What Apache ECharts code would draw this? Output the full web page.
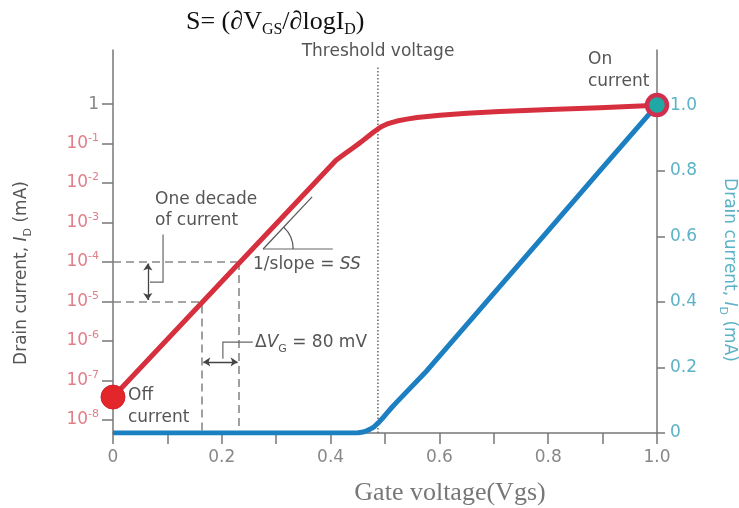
<!DOCTYPE html>
<html><head><meta charset="utf-8">
<script src="https://cdn.jsdelivr.net/npm/echarts@6/dist/echarts.min.js"></script>
<style>html,body{margin:0;padding:0;background:#fff}#c{width:739px;height:508px}</style>
</head><body><div id="c"></div>
<script>
// ---- data ----
const gateVoltageRed = [0, 0.41, 0.428, 0.441, 0.455, 0.467, 0.478, 0.487, 0.495, 0.503, 0.512, 0.522, 0.54, 0.559, 0.601, 0.651, 0.711, 0.803, 0.895, 1.0];
const logDrainCurrent = [-7.42, -1.42, -1.24, -1.11, -0.97, -0.84, -0.72, -0.63, -0.56, -0.51, -0.47, -0.43, -0.38, -0.34, -0.28, -0.23, -0.19, -0.14, -0.09, -0.03];
const gateVoltageBlue = [0, 0.449, 0.462, 0.472, 0.48, 0.487, 0.495, 0.503, 0.512, 0.522, 0.577, 0.7, 0.8, 0.9, 1.0];
const linearDrainCurrent = [0, 0, 0.004, 0.011, 0.019, 0.03, 0.044, 0.06, 0.077, 0.095, 0.19, 0.426, 0.617, 0.809, 1.0];
const offCurrent = [0, -7.42];
const onCurrent = [1.0, 1.0];
const thresholdVoltage = 0.487;
const thresholdTop = 1.115;

const xTicks = [0, 0.1, 0.2, 0.3, 0.4, 0.5, 0.6, 0.7, 0.8, 0.9, 1.0];
const xLabels = [0, 0.2, 0.4, 0.6, 0.8, 1.0];
const leftTicks = [-8, -7, -6, -5, -4, -3, -2, -1, 0];
const rightTicks = [0, 0.2, 0.4, 0.6, 0.8, 1.0];

// annotation geometry in data units (x = gate voltage, y = log10 I_D)
const dashGuides = [
  [[0, -4], [0.233, -4]],
  [[0.231, -4], [0.231, -8.33]],
  [[0, -5], [0.164, -5]],
  [[0.164, -5.1], [0.164, -8.33]]
];
const decadeArrow = [[0.064, -4.04], [0.064, -4.96]];
const deltaArrow = [[0.166, -6.53], [0.229, -6.53]];
const decadeLeader = [[0.092, -3.3], [0.092, -4.51], [0.068, -4.51]];
const deltaLeader = [[0.257, -6.03], [0.202, -6.03], [0.202, -6.45]];
const slopeBase = [[0.276, -3.67], [0.404, -3.67]];
const slopeTangent = [[0.276, -3.67], [0.366, -2.35]];

const SANS = 'DejaVu Sans';
const SERIF = 'Liberation Serif';
const RED = '#d6303f';
const BLUE = '#1c7fc2';
const PINK = '#df7f88';
const TEAL = '#5cb2c6';
const AXIS = '#777';
const TXT = '#555';

const chart = echarts.init(document.getElementById('c'), null, {renderer: 'canvas'});

const option = {
  animation: false,
  backgroundColor: '#fff',
  grid: {left: 113, right: 82, top: 50, bottom: 75, containLabel: false},
  xAxis: {
    type: 'value', min: 0, max: 1,
    axisLine: {show: true, onZero: false, lineStyle: {color: AXIS, width: 1.5}},
    axisTick: {show: true, length: 11, customValues: xTicks, lineStyle: {color: AXIS, width: 1.5}},
    axisLabel: {customValues: xLabels, margin: 16, color: '#888', fontSize: 17, fontFamily: SANS,
      formatter: v => v === 0 ? '0' : v.toFixed(1)},
    splitLine: {show: false}
  },
  yAxis: [{
    type: 'value', min: -8.33, max: 1.37, position: 'left',
    axisLine: {show: true, onZero: false, lineStyle: {color: AXIS, width: 1.5}},
    axisTick: {show: true, length: 11, customValues: leftTicks, lineStyle: {color: AXIS, width: 1.5}},
    axisLabel: {customValues: leftTicks, margin: 14,
      formatter: v => v === 0 ? '{g|1}' : '{b|10}{s|' + v + '}',
      rich: {
        g: {color: '#888', fontSize: 17, fontFamily: SANS, lineHeight: 22},
        b: {color: PINK, fontSize: 17, fontFamily: SANS, lineHeight: 22},
        s: {color: PINK, fontSize: 11, fontFamily: SANS, lineHeight: 11, verticalAlign: 'top'}
      }},
    splitLine: {show: false}
  }, {
    type: 'value', min: 0, max: 1.168, position: 'right',
    axisLine: {show: true, onZero: false, lineStyle: {color: AXIS, width: 1.5}},
    axisTick: {show: true, length: 8, customValues: rightTicks, lineStyle: {color: AXIS, width: 1.5}},
    axisLabel: {customValues: rightTicks, margin: 13, color: TEAL, fontSize: 17, fontFamily: SANS,
      formatter: v => v === 0 ? '0' : v.toFixed(1)},
    splitLine: {show: false}
  }],
  series: [
    {
      type: 'lines', coordinateSystem: 'cartesian2d', xAxisIndex: 0, yAxisIndex: 0, z: 1, silent: true,
      symbol: 'none', lineStyle: {color: '#888', width: 1.6, type: [8, 5], opacity: 1, curveness: 0},
      data: dashGuides.map(c => ({coords: c}))
    },
    {
      type: 'line', xAxisIndex: 0, yAxisIndex: 1, z: 1, silent: true, symbol: 'none',
      lineStyle: {color: '#666', width: 1.5, type: [1.5, 2]},
      data: [[thresholdVoltage, 0], [thresholdVoltage, thresholdTop]]
    },
    {
      type: 'lines', coordinateSystem: 'cartesian2d', xAxisIndex: 0, yAxisIndex: 0, z: 3, silent: true,
      symbol: ['arrow', 'arrow'], symbolSize: 7,
      lineStyle: {color: '#444', width: 1.3, opacity: 1, curveness: 0},
      data: [{coords: decadeArrow}, {coords: deltaArrow}]
    },
    {
      type: 'lines', coordinateSystem: 'cartesian2d', xAxisIndex: 0, yAxisIndex: 0, z: 3, silent: true,
      polyline: true, symbol: 'none',
      lineStyle: {color: '#666', width: 1.2, opacity: 1},
      data: [{coords: decadeLeader}, {coords: deltaLeader}, {coords: slopeBase}]
    },
    {
      type: 'lines', coordinateSystem: 'cartesian2d', xAxisIndex: 0, yAxisIndex: 0, z: 3, silent: true,
      polyline: true, symbol: 'none',
      lineStyle: {color: '#555', width: 1.2, opacity: 1},
      data: [{coords: slopeTangent}]
    },
    {
      name: 'log', type: 'line', xAxisIndex: 0, yAxisIndex: 0, z: 5, symbol: 'none', smooth: false,
      lineStyle: {color: RED, width: 5, join: 'round', cap: 'round'},
      data: gateVoltageRed.map((v, i) => [v, logDrainCurrent[i]])
    },
    {
      name: 'linear', type: 'line', xAxisIndex: 0, yAxisIndex: 1, z: 4, symbol: 'none', smooth: false,
      lineStyle: {color: BLUE, width: 5, join: 'round', cap: 'butt'},
      data: gateVoltageBlue.map((v, i) => [v, linearDrainCurrent[i]])
    },
    {
      type: 'scatter', xAxisIndex: 0, yAxisIndex: 0, z: 6, symbol: 'circle', symbolSize: 24,
      itemStyle: {color: '#e3262a', borderColor: '#d02030', borderWidth: 1, opacity: 1},
      data: [offCurrent]
    },
    {
      type: 'scatter', xAxisIndex: 0, yAxisIndex: 1, z: 6, symbol: 'circle', symbolSize: 20,
      itemStyle: {color: '#1fa8a4', borderColor: '#d0304e', borderWidth: 4.5, opacity: 1},
      data: [onCurrent]
    }
  ]
};
chart.setOption(option);

// ---- text & angle arc ----
const c0 = chart.convertToPixel({xAxisIndex: 0, yAxisIndex: 0}, slopeTangent[0]);
const c1 = chart.convertToPixel({xAxisIndex: 0, yAxisIndex: 0}, slopeTangent[1]);
const ang = Math.atan2(c1[1] - c0[1], c1[0] - c0[0]);

function t(x, y, text, extra) {
  return Object.assign({type: 'text', x: x, y: y, z: 10, silent: true,
    style: Object.assign({text: text, font: '17px "' + SANS + '"', fill: TXT, align: 'left', verticalAlign: 'middle'}, extra || {})});
}
const sansRich = {
  t: {fontSize: 17, fontFamily: SANS, lineHeight: 24},
  i: {fontSize: 17, fontFamily: SANS, fontStyle: 'italic', lineHeight: 24},
  s: {fontSize: 11, fontFamily: SANS, lineHeight: 11, verticalAlign: 'bottom'}
};

chart.setOption({
  graphic: [
    {type: 'arc', silent: true, z: 10, shape: {cx: c0[0], cy: c0[1], r: 30, startAngle: ang, endAngle: 0, clockwise: true},
     style: {stroke: '#555', lineWidth: 1.2, fill: null}},
    {type: 'text', x: 186, y: 22, z: 10, silent: true, style: {
      text: '{n|S= (∂V}{s|GS}{n|/∂logI}{s|D}{n|)}', align: 'left', verticalAlign: 'middle', fill: '#111',
      rich: {n: {fontSize: 26, fontFamily: SERIF, lineHeight: 32, fill: '#111'},
             s: {fontSize: 16, fontFamily: SERIF, lineHeight: 16, verticalAlign: 'bottom', fill: '#111'}}}},
    {type: 'text', x: 450, y: 493, z: 10, silent: true, style: {
      text: 'Gate voltage(Vgs)', font: '26px "' + SERIF + '"', fill: '#777', align: 'center', verticalAlign: 'middle'}},
    t(378, 52, 'Threshold voltage', {align: 'center'}),
    t(588, 60, 'On'),
    t(588, 82, 'current'),
    t(128, 396, 'Off'),
    t(128, 418, 'current'),
    t(155, 200, 'One decade'),
    t(155, 221, 'of current'),
    {type: 'text', x: 253, y: 265, z: 10, silent: true, style: {
      text: '{t|1/slope = }{i|SS}', align: 'left', verticalAlign: 'middle', fill: TXT, rich: sansRich}},
    {type: 'text', x: 255, y: 343, z: 10, silent: true, style: {
      text: '{t|Δ}{i|V}{s|G}{t| = 80 mV}', align: 'left', verticalAlign: 'middle', fill: TXT, rich: sansRich}},
    {type: 'text', x: 22, y: 273, z: 10, silent: true, rotation: Math.PI / 2, style: {
      text: '{t|Drain current, }{i|I}{s|D}{t| (mA)}', align: 'center', verticalAlign: 'middle', fill: TXT, rich: sansRich}},
    {type: 'text', x: 729, y: 270, z: 10, silent: true, rotation: -Math.PI / 2, style: {
      text: '{t|Drain current, }{i|I}{s|D}{t| (mA)}', align: 'center', verticalAlign: 'middle', fill: TEAL, rich: sansRich}}
  ]
});
</script>
</body></html>
